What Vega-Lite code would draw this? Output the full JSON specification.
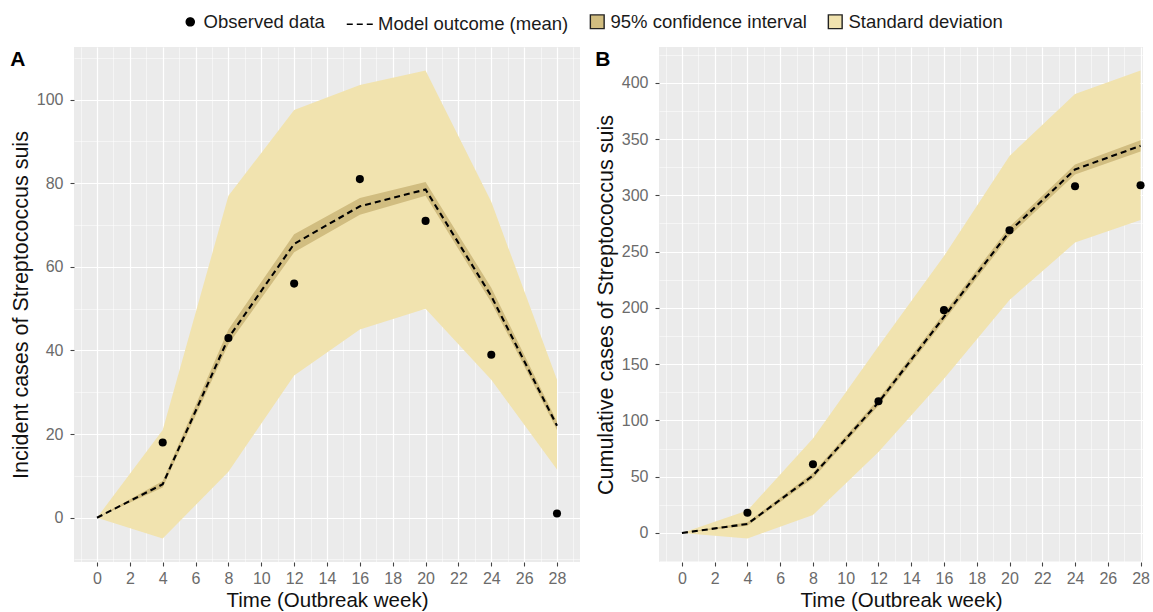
{
  "$schema": "https://vega.github.io/schema/vega-lite/v6.json",
  "padding": {"left": 10, "top": 10, "right": 0, "bottom": 0},
  "background": "white",
  "datasets": {
    "incident": [
      {"week": 0, "observed": null, "mean": 0, "ci_lo": 0, "ci_hi": 0, "sd_lo": 0, "sd_hi": 0},
      {"week": 4, "observed": 18, "mean": 8, "ci_lo": 7.2, "ci_hi": 8.8, "sd_lo": -5, "sd_hi": 21},
      {"week": 8, "observed": 43, "mean": 43, "ci_lo": 41.5, "ci_hi": 45, "sd_lo": 11, "sd_hi": 77},
      {"week": 12, "observed": 56, "mean": 65.5, "ci_lo": 63.5, "ci_hi": 67.8, "sd_lo": 34, "sd_hi": 97.5},
      {"week": 16, "observed": 81, "mean": 74.5, "ci_lo": 72.5, "ci_hi": 76.5, "sd_lo": 45, "sd_hi": 103.5},
      {"week": 20, "observed": 71, "mean": 78.5, "ci_lo": 77, "ci_hi": 80.3, "sd_lo": 50, "sd_hi": 107},
      {"week": 24, "observed": 39, "mean": 53, "ci_lo": 51.5, "ci_hi": 55, "sd_lo": 33, "sd_hi": 75.6},
      {"week": 28, "observed": 1, "mean": 22, "ci_lo": 21, "ci_hi": 23, "sd_lo": 11.5, "sd_hi": 33}
    ],
    "cumulative": [
      {"week": 0, "observed": null, "mean": 0, "ci_lo": 0, "ci_hi": 0, "sd_lo": 0, "sd_hi": 0},
      {"week": 4, "observed": 18, "mean": 8, "ci_lo": 6.5, "ci_hi": 9.5, "sd_lo": -5, "sd_hi": 20},
      {"week": 8, "observed": 61, "mean": 51, "ci_lo": 48.5, "ci_hi": 53.5, "sd_lo": 16, "sd_hi": 84},
      {"week": 12, "observed": 117, "mean": 116, "ci_lo": 113, "ci_hi": 119, "sd_lo": 72, "sd_hi": 166},
      {"week": 16, "observed": 198, "mean": 192, "ci_lo": 188.5, "ci_hi": 195.5, "sd_lo": 137, "sd_hi": 246},
      {"week": 20, "observed": 269, "mean": 268, "ci_lo": 264, "ci_hi": 272, "sd_lo": 207, "sd_hi": 335},
      {"week": 24, "observed": 308, "mean": 323, "ci_lo": 318.5, "ci_hi": 327.5, "sd_lo": 258, "sd_hi": 390},
      {"week": 28, "observed": 309, "mean": 344, "ci_lo": 339, "ci_hi": 349, "sd_lo": 278, "sd_hi": 411}
    ]
  },
  "hconcat": [
    {
      "width": 506,
      "height": 515,
      "data": {"name": "incident"},
      "title": {"text": "A", "anchor": "start", "frame": "bounds", "fontSize": 21, "fontWeight": "bold", "font": "Liberation Sans", "color": "black", "offset": -23},
      "encoding": {
        "x": {
          "field": "week", "type": "quantitative",
          "scale": {"domain": [-1.4, 29.4], "nice": false, "zero": false},
          "axis": {
            "title": "Time (Outbreak week)",
            "values": [-1, 0, 1, 2, 3, 4, 5, 6, 7, 8, 9, 10, 11, 12, 13, 14, 15, 16, 17, 18, 19, 20, 21, 22, 23, 24, 25, 26, 27, 28, 29],
            "labelExpr": "(datum.value % 2 === 0 && datum.value >= 0) ? datum.label : ''",
            "tickOpacity": {"condition": {"test": "datum.value % 2 === 0 && datum.value >= 0", "value": 1}, "value": 0},
            "gridWidth": {"condition": {"test": "datum.value % 2 === 0", "value": 1.2}, "value": 0.5}
          }
        },
        "y": {
          "field": "mean", "type": "quantitative",
          "scale": {"domain": [-10.6, 112.6], "nice": false, "zero": false},
          "axis": {
            "title": "Incident cases of Streptococcus suis",
            "values": [-10, 0, 10, 20, 30, 40, 50, 60, 70, 80, 90, 100, 110],
            "labelExpr": "(datum.value % 20 === 0 && datum.value >= 0 && datum.value <= 100) ? datum.label : ''",
            "tickOpacity": {"condition": {"test": "datum.value % 20 === 0 && datum.value >= 0 && datum.value <= 100", "value": 1}, "value": 0},
            "gridWidth": {"condition": {"test": "datum.value % 20 === 0", "value": 1.2}, "value": 0.5}
          }
        }
      },
      "layer": [
        {
          "mark": {"type": "area", "opacity": 1},
          "encoding": {
            "y": {"field": "sd_lo", "type": "quantitative"},
            "y2": {"field": "sd_hi"},
            "fill": {
              "datum": "Standard deviation", "type": "nominal",
              "scale": {"domain": ["Observed data", "Model outcome (mean)", "95% confidence interval", "Standard deviation"], "range": ["black", "transparent", "#D1BD80", "#F1E3AF"]},
              "legend": {"title": null}
            }
          }
        },
        {
          "mark": {"type": "area", "opacity": 1},
          "encoding": {
            "y": {"field": "ci_lo", "type": "quantitative"},
            "y2": {"field": "ci_hi"},
            "fill": {"datum": "95% confidence interval", "type": "nominal"}
          }
        },
        {
          "mark": {"type": "line", "strokeWidth": 2.1},
          "encoding": {
            "stroke": {
              "datum": "Model outcome (mean)", "type": "nominal",
              "scale": {"domain": ["Observed data", "Model outcome (mean)", "95% confidence interval", "Standard deviation"], "range": ["black", "black", "#222222", "#222222"]},
              "legend": {"title": null}
            },
            "strokeDash": {
              "datum": "Model outcome (mean)", "type": "nominal",
              "scale": {"domain": ["Observed data", "Model outcome (mean)", "95% confidence interval", "Standard deviation"], "range": [[1, 0], [6, 4], [1, 0], [1, 0]]},
              "legend": {"title": null}
            }
          }
        },
        {
          "mark": {"type": "point", "filled": true, "opacity": 1},
          "encoding": {
            "y": {"field": "observed", "type": "quantitative"},
            "fill": {"datum": "Observed data", "type": "nominal"},
            "shape": {
              "datum": "Observed data", "type": "nominal",
              "scale": {"domain": ["Observed data", "Model outcome (mean)", "95% confidence interval", "Standard deviation"], "range": ["circle", "stroke", "square", "square"]},
              "legend": {"title": null}
            },
            "size": {
              "datum": "Observed data", "type": "nominal",
              "scale": {"type": "ordinal", "domain": ["Observed data", "Model outcome (mean)", "95% confidence interval", "Standard deviation"], "range": [65, 700, 190, 190]},
              "legend": {"title": null}
            }
          }
        }
      ]
    },
    {
      "width": 484,
      "height": 515,
      "data": {"name": "cumulative"},
      "title": {"text": "B", "anchor": "start", "frame": "bounds", "fontSize": 21, "fontWeight": "bold", "font": "Liberation Sans", "color": "black", "offset": -23},
      "encoding": {
        "x": {
          "field": "week", "type": "quantitative",
          "scale": {"domain": [-1.4, 28.15], "nice": false, "zero": false},
          "axis": {
            "title": "Time (Outbreak week)",
            "values": [-1, 0, 1, 2, 3, 4, 5, 6, 7, 8, 9, 10, 11, 12, 13, 14, 15, 16, 17, 18, 19, 20, 21, 22, 23, 24, 25, 26, 27, 28],
            "labelExpr": "(datum.value % 2 === 0 && datum.value >= 0) ? datum.label : ''",
            "tickOpacity": {"condition": {"test": "datum.value % 2 === 0 && datum.value >= 0", "value": 1}, "value": 0},
            "gridWidth": {"condition": {"test": "datum.value % 2 === 0", "value": 1.2}, "value": 0.5}
          }
        },
        "y": {
          "field": "mean", "type": "quantitative",
          "scale": {"domain": [-25.8, 431.8], "nice": false, "zero": false},
          "axis": {
            "title": "Cumulative cases of Streptococcus suis",
            "values": [-25, 0, 25, 50, 75, 100, 125, 150, 175, 200, 225, 250, 275, 300, 325, 350, 375, 400, 425],
            "labelExpr": "(datum.value >= 0 && datum.value <= 400 && floor(datum.value / 50) * 50 == datum.value) ? datum.label : ''",
            "tickOpacity": {"condition": {"test": "datum.value >= 0 && datum.value <= 400 && floor(datum.value / 50) * 50 == datum.value", "value": 1}, "value": 0},
            "gridWidth": {"condition": {"test": "floor(datum.value / 50) * 50 == datum.value", "value": 1.2}, "value": 0.5}
          }
        }
      },
      "layer": [
        {
          "mark": {"type": "area", "opacity": 1},
          "encoding": {
            "y": {"field": "sd_lo", "type": "quantitative"},
            "y2": {"field": "sd_hi"},
            "fill": {
              "datum": "Standard deviation", "type": "nominal",
              "scale": {"domain": ["Observed data", "Model outcome (mean)", "95% confidence interval", "Standard deviation"], "range": ["black", "transparent", "#D1BD80", "#F1E3AF"]},
              "legend": {"title": null}
            }
          }
        },
        {
          "mark": {"type": "area", "opacity": 1},
          "encoding": {
            "y": {"field": "ci_lo", "type": "quantitative"},
            "y2": {"field": "ci_hi"},
            "fill": {"datum": "95% confidence interval", "type": "nominal"}
          }
        },
        {
          "mark": {"type": "line", "strokeWidth": 2.1},
          "encoding": {
            "stroke": {
              "datum": "Model outcome (mean)", "type": "nominal",
              "scale": {"domain": ["Observed data", "Model outcome (mean)", "95% confidence interval", "Standard deviation"], "range": ["black", "black", "#222222", "#222222"]},
              "legend": {"title": null}
            },
            "strokeDash": {
              "datum": "Model outcome (mean)", "type": "nominal",
              "scale": {"domain": ["Observed data", "Model outcome (mean)", "95% confidence interval", "Standard deviation"], "range": [[1, 0], [6, 4], [1, 0], [1, 0]]},
              "legend": {"title": null}
            }
          }
        },
        {
          "mark": {"type": "point", "filled": true, "opacity": 1},
          "encoding": {
            "y": {"field": "observed", "type": "quantitative"},
            "fill": {"datum": "Observed data", "type": "nominal"},
            "shape": {
              "datum": "Observed data", "type": "nominal",
              "scale": {"domain": ["Observed data", "Model outcome (mean)", "95% confidence interval", "Standard deviation"], "range": ["circle", "stroke", "square", "square"]},
              "legend": {"title": null}
            },
            "size": {
              "datum": "Observed data", "type": "nominal",
              "scale": {"type": "ordinal", "domain": ["Observed data", "Model outcome (mean)", "95% confidence interval", "Standard deviation"], "range": [65, 700, 190, 190]},
              "legend": {"title": null}
            }
          }
        }
      ]
    }
  ],
  "spacing": 79,
  "bounds": "flush",
  "config": {
    "view": {"fill": "#EBEBEB", "stroke": null},
    "axis": {
      "labelFont": "Liberation Sans", "labelFontSize": 16, "labelColor": "#6b6b6b",
      "titleFont": "Liberation Sans", "titleFontSize": 20.5, "titleFontWeight": "normal", "titleColor": "#111111",
      "tickColor": "#444444", "tickSize": 4, "tickWidth": 1.1, "domain": false,
      "gridColor": "#FFFFFF", "gridOpacity": 1, "labelPadding": 4, "labelOverlap": false, "labelFlush": false, "titlePadding": 4
    },
    "axisY": {"titlePadding": 4, "titleFontSize": 21.5, "labelPadding": 7},
    "legend": {
      "orient": "none", "legendX": 107, "legendY": -37, "direction": "horizontal", "title": null,
      "labelFontSize": 18.5, "labelFont": "Liberation Sans", "labelColor": "#1a1a1a", "labelLimit": 400,
      "columnPadding": 18, "labelOffset": 4, "symbolStrokeWidth": 1.4
    }
  },
  "resolve": {"scale": {"fill": "shared", "stroke": "shared", "strokeDash": "shared", "shape": "shared", "size": "shared"}}
}
